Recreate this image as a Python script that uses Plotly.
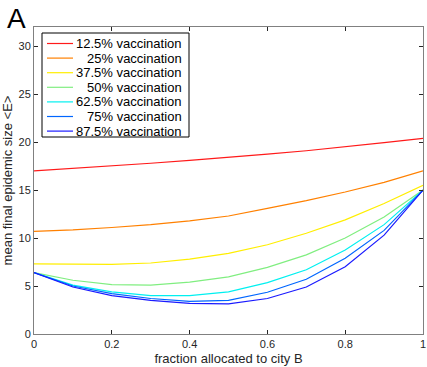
import plotly.graph_objects as go

x = [0, 0.1, 0.2, 0.3, 0.4, 0.5, 0.6, 0.7, 0.8, 0.9, 1.0]
labels = ["12.5% vaccination", "25% vaccination", "37.5% vaccination",
          "50% vaccination", "62.5% vaccination", "75% vaccination",
          "87.5% vaccination"]
v125 = [17.0, 17.25, 17.5, 17.8, 18.1, 18.4, 18.75, 19.1, 19.5, 19.95, 20.4]
v25 = [10.7, 10.85, 11.1, 11.4, 11.8, 12.3, 13.1, 13.9, 14.8, 15.8, 17.0]
v375 = [7.3, 7.25, 7.25, 7.4, 7.8, 8.4, 9.3, 10.5, 11.9, 13.6, 15.5]
v50 = [6.4, 5.6, 5.15, 5.1, 5.4, 5.95, 6.95, 8.25, 10.0, 12.2, 15.0]
v625 = [6.4, 5.1, 4.4, 4.0, 4.0, 4.4, 5.35, 6.7, 8.75, 11.4, 15.0]
v75 = [6.4, 5.0, 4.2, 3.7, 3.4, 3.5, 4.35, 5.7, 7.9, 10.8, 15.0]
v875 = [6.4, 4.9, 4.0, 3.5, 3.2, 3.15, 3.7, 4.9, 7.0, 10.3, 15.0]
series = [v125, v25, v375, v50, v625, v75, v875]
colors = ["#ff1a1a", "#ff8000", "#ffee00", "#80ee80", "#00f0f0", "#0066ff", "#1a1aff"]

W, H = 427, 367
ML, MR, MT, MB = 34, 4, 27, 33
PW, PH = W - ML - MR, H - MT - MB


def px2x(px):
    return (px - ML) / PW


def py2y(py):
    return (H - MB - py) / PH


fig = go.Figure()
for lab, ys, c in zip(labels, series, colors):
    fig.add_trace(go.Scatter(x=x, y=ys, mode="lines", name=lab,
                             line=dict(color=c, width=1.2), showlegend=False))

# manual legend (compact, MATLAB-style)
fig.add_shape(type="rect", xref="paper", yref="paper",
              x0=px2x(42), x1=px2x(189), y0=py2y(137), y1=py2y(33),
              line=dict(color="#000000", width=1), fillcolor="white", layer="above")
row0, step = 43.5, 14.6
for i, (lab, c) in enumerate(zip(labels, colors)):
    yy = py2y(row0 + i * step)
    fig.add_shape(type="line", xref="paper", yref="paper",
                  x0=px2x(47), x1=px2x(73), y0=yy, y1=yy,
                  line=dict(color=c, width=1.2), layer="above")
    fig.add_annotation(text=lab, xref="paper", yref="paper", x=px2x(184), y=yy,
                       xanchor="right", yanchor="middle", showarrow=False,
                       font=dict(size=13, color="#000000"))

axis_common = dict(showline=True, linecolor="#808080", linewidth=1, mirror="ticks",
                   ticks="inside", ticklen=4, tickcolor="#262626", showgrid=False,
                   zeroline=False, automargin=False,
                   tickfont=dict(size=11, color="#262626"))
fig.update_layout(
    width=W, height=H,
    margin=dict(l=ML, r=MR, t=MT, b=MB),
    plot_bgcolor="white", paper_bgcolor="white",
    font=dict(family="Liberation Sans, Arial, sans-serif", color="#262626"),
    xaxis=dict(range=[0, 1], tickvals=[0, 0.2, 0.4, 0.6, 0.8, 1],
               ticktext=["0", "0.2", "0.4", "0.6", "0.8", "1"],
               title=dict(text="fraction allocated to city B", font=dict(size=13), standoff=4),
               **axis_common),
    yaxis=dict(range=[0, 32], tickvals=[0, 5, 10, 15, 20, 25, 30],
               title=dict(text="mean final epidemic size <E>", font=dict(size=13), standoff=2),
               **axis_common),
    showlegend=False,
)
fig.add_annotation(text="A", xref="paper", yref="paper", x=px2x(5), y=py2y(1),
                   xanchor="left", yanchor="top", showarrow=False,
                   font=dict(size=28, color="#000000"))
fig.write_html("out.html", config={"displayModeBar": False},
               post_script="document.body.style.margin='0';")
